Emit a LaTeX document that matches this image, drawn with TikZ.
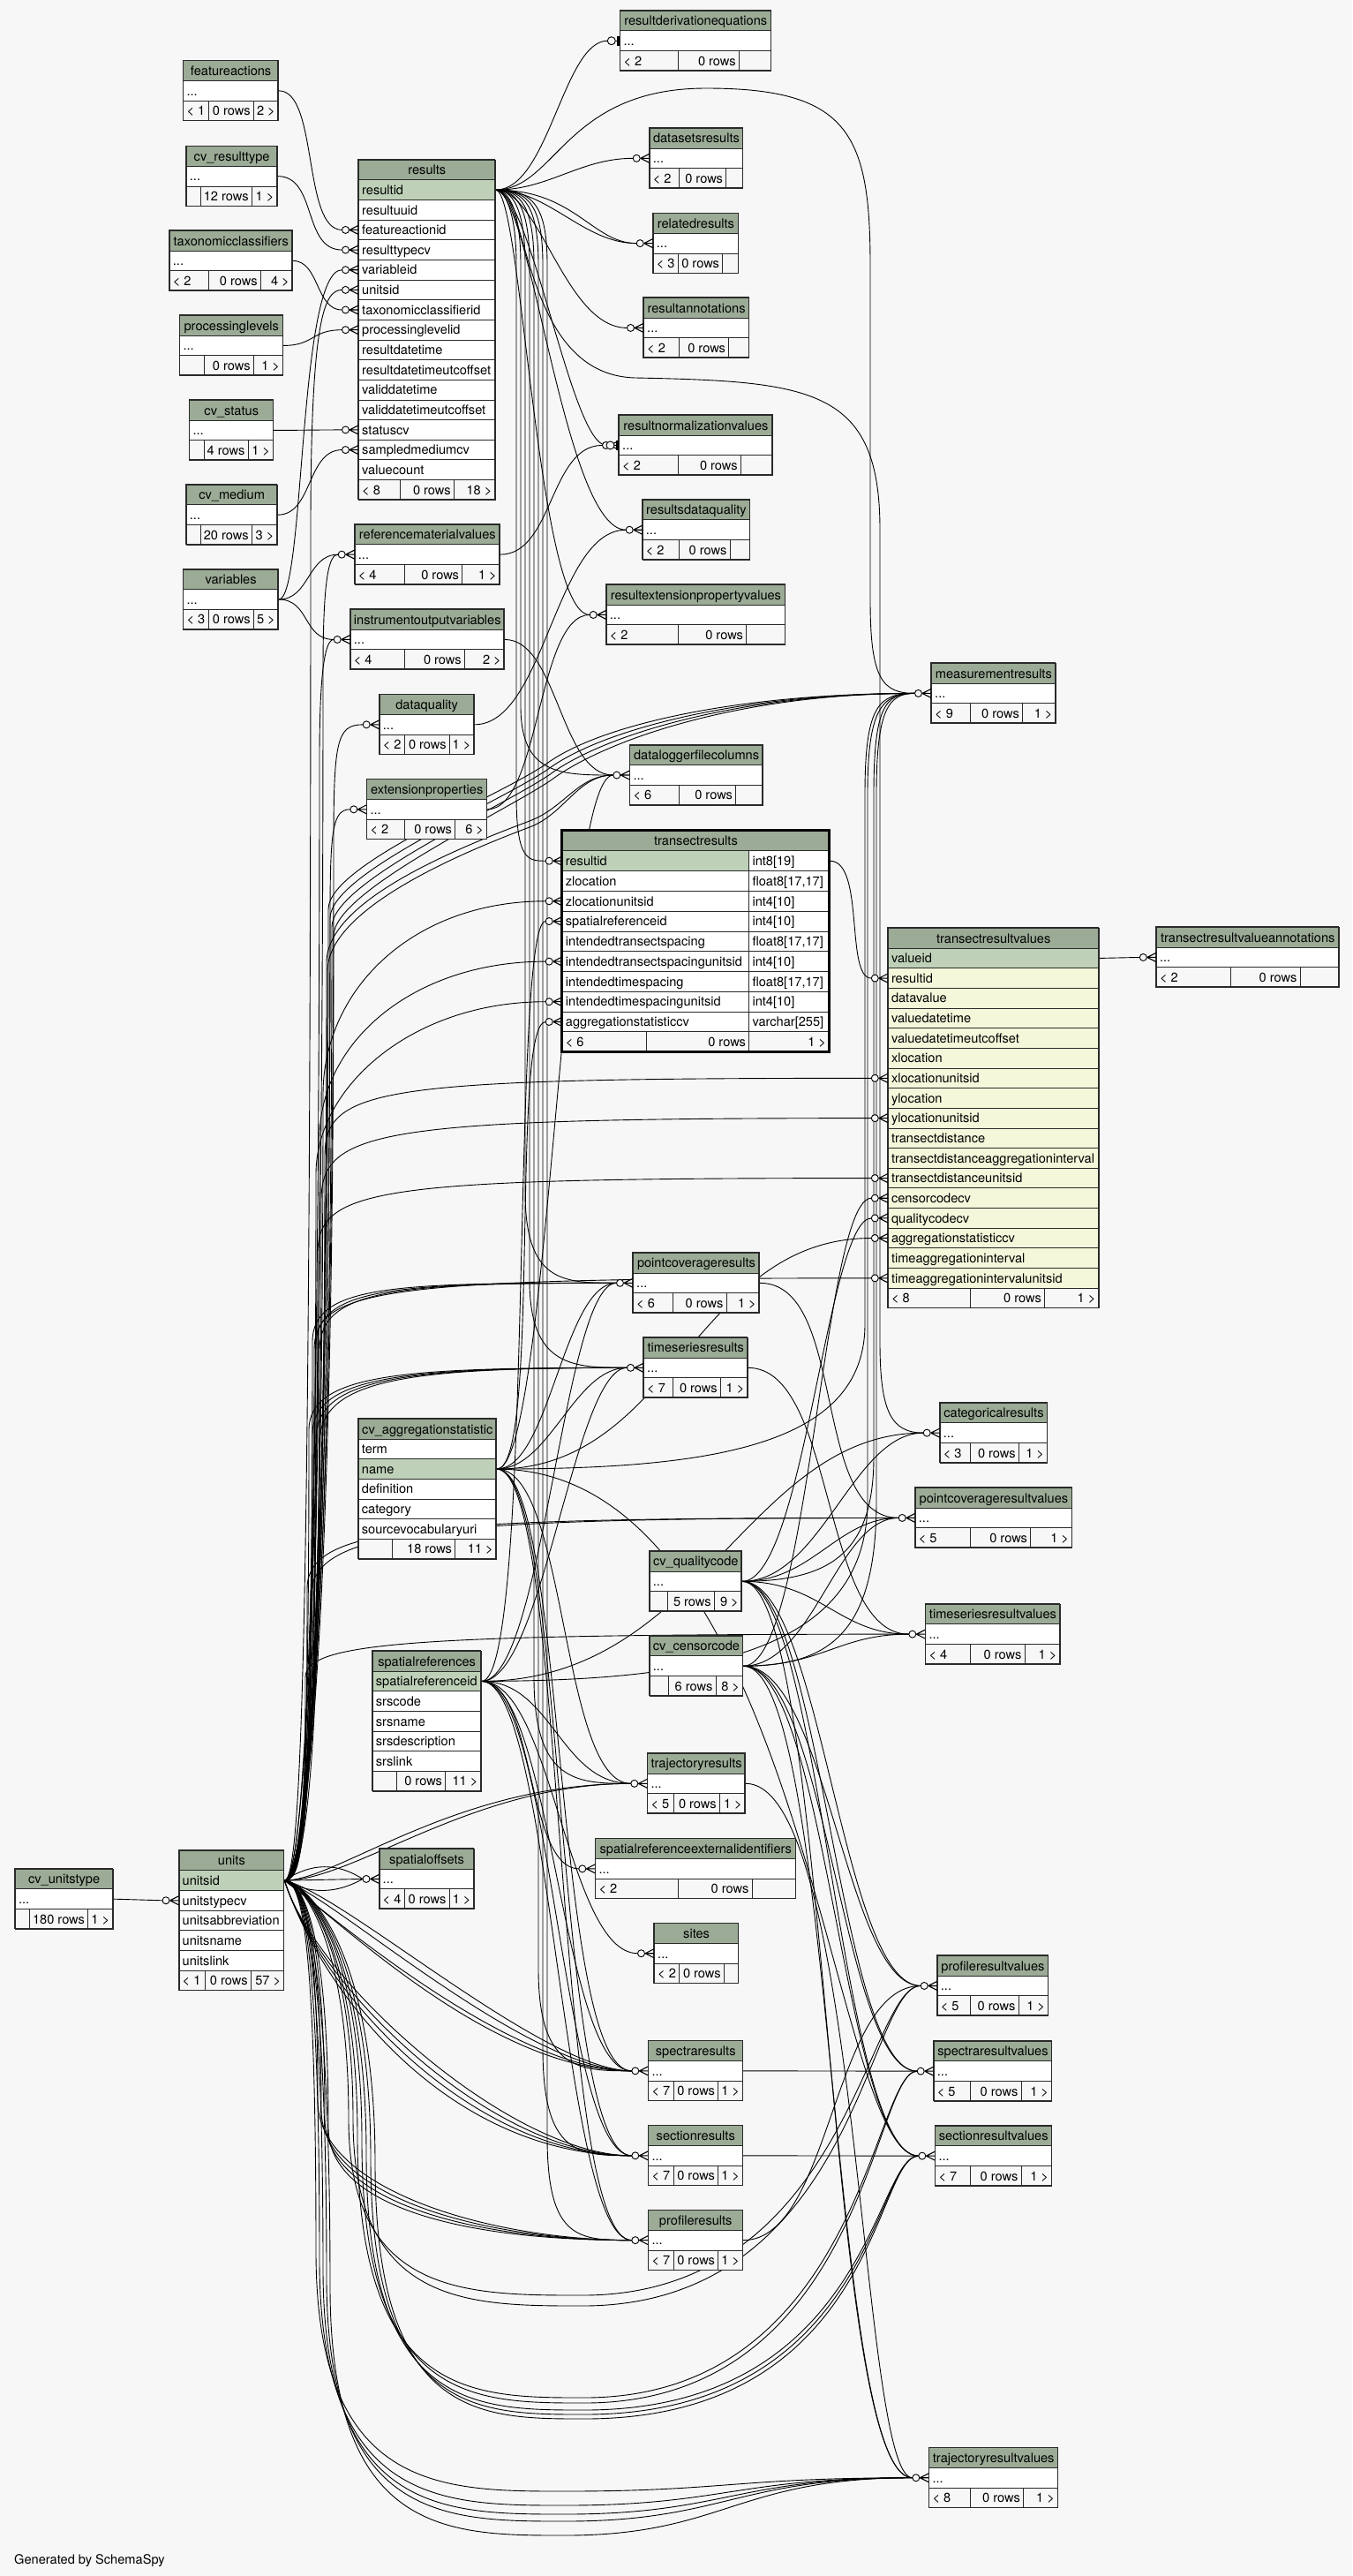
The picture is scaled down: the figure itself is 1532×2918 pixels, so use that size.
\documentclass[tikz,border=0pt]{standalone}
\usepackage{fontspec}
\setmainfont{TeX Gyre Heros}
\usetikzlibrary{calc}
\definecolor{bgc}{HTML}{F7F7F7}
\definecolor{hdrc}{HTML}{9BAB96}
\definecolor{keyc}{HTML}{BED1B8}
\definecolor{yelc}{HTML}{F4F7DA}
\definecolor{brd}{HTML}{2A2A2A}
\pgfdeclarelayer{bgl}\pgfdeclarelayer{edl}
\pgfsetlayers{bgl,edl,main}
\newcommand\tabfont{\fontsize{14.6}{16}\selectfont}
\def\RH{22.65}
\tikzset{
 hdr/.style={draw=brd, line width=0.9pt, fill=hdrc, anchor=north west, minimum height=\RH pt, inner sep=0pt, font=\tabfont, text height=10.5pt, text depth=0pt},
 rowb/.style={draw=brd, line width=0.9pt, fill=white, anchor=north west, minimum height=\RH pt, inner sep=0pt},
 keyrow/.style={fill=keyc},
 yelrow/.style={fill=yelc},
 lbl/.style={inner xsep=4pt, inner ysep=0pt, font=\tabfont, text height=10.5pt, text depth=0pt},
 tbord/.style={draw=brd, line width=1.3pt},
 rel/.style={draw=black, line width=0.9pt},
 crowpic/.pic={\draw[line width=1.1pt] (-10,0)--(0,-5) (-10,0)--(0,0) (-10,0)--(0,5); \draw[line width=0.9pt,fill=bgc] (-14.5,0) circle[radius=4pt];},
 teepic/.pic={\fill (-3.3,-5.5) rectangle (0,5.5); \draw[line width=0.9pt] (-5,0)--(-3.3,0); \draw[line width=0.9pt,fill=bgc] (-9.5,0) circle[radius=4.5pt];}
}
\newcommand\mktab[5]{%
  \xdef\TX{#2}\xdef\TW{#4}\xdef\TT{#3}%
  \node[hdr, minimum width=#4pt] (#1) at (#2,#3) {#5};%
  \pgfmathsetmacro\TMP{#3+\RH}\xdef\TY{\TMP}}
\newcommand\trow[3][]{%
  \node[rowb, minimum width=\TW pt, label={[lbl,anchor=west]west:{#3}}, #1] (#2) at (\TX,\TY) {};%
  \pgfmathsetmacro\TMP{\TY+\RH}\xdef\TY{\TMP}}
\newcommand\trowt[4][]{%
  \node[rowb, minimum width=211.6pt, label={[lbl,anchor=west]west:{#3}}, #1] (#2) at (\TX,\TY) {};%
  \node[rowb, minimum width=91pt, label={[lbl,anchor=west]west:{#4}}] (#2t) at (848.3,\TY) {};%
  \pgfmathsetmacro\TMP{\TY+\RH}\xdef\TY{\TMP}}
\newcommand\tfoot[6]{%
  \pgfmathsetmacro\WA{#2-\TX}\pgfmathsetmacro\WB{#3-#2}\pgfmathsetmacro\WC{\TX+\TW-#3}%
  \node[rowb, fill=bgc, minimum width=\WA pt, label={[lbl,anchor=west]west:{#4}}] (#1-f1) at (\TX,\TY) {};%
  \node[rowb, fill=bgc, minimum width=\WB pt, label={[lbl,anchor=east]east:{#5}}] (#1-f2) at (#2,\TY) {};%
  \node[rowb, fill=bgc, minimum width=\WC pt, label={[lbl,anchor=east]east:{#6}}] (#1-f3) at (#3,\TY) {};%
  \pgfmathsetmacro\YB{\TY+\RH}%
  \draw[tbord] (\TX,\TT) rectangle ({\TX+\TW},\YB);}
\newcommand\crowin[1]{\coordinate (#1-in) at ([xshift=-18.5pt]#1.west); \pic at (#1.west) {crowpic};}
\newcommand\teein[1]{\coordinate (#1-tin) at ([xshift=-14pt]#1.west); \pic at (#1.west) {teepic};}
% edges
\newcommand\SC[4]{\draw[rel] (#1) .. controls +(#3,0) and +(-#4,0) .. (#2);}
\newcommand\UP[5]{\draw[rel] (un-1.east) .. controls +(20,0) and (#2,{#3+0.8*(2129.6-#3)}) .. (#2,#3) .. controls (#2,#4) and +(-#5,0) .. (#1);}
\newcommand\UW[5]{\draw[rel] (un-1.east) .. controls +(20,0) and (#2,{#3+0.8*(2129.6-#3)}) .. (#2,#3) .. controls (#2,{#3-70}) and (520,{#4+30}) .. (600,#4) .. controls (640,{#4-15}) and +(-#5,0) .. (#1);}
\newcommand\UM[5]{\draw[rel] (un-1.east) .. controls +(20,0) and (#2,{#3+0.8*(2129.6-#3)}) .. (#2,#3) .. controls (#2,{#3-50}) and ({#4-60},{#5+40}) .. (#4,#5) .. controls ({#4+60},{#5-45}) and +(-200,0) .. (#1);}
\newcommand\DS[4]{\draw[rel] (un-1.east) .. controls (#2,#3) and +(-#4,0) .. (#1);}
\newcommand\UU[7]{\draw[rel] (un-1.east) .. controls +(20,0) and (#2,2200) .. (#2,#3) .. controls (#2,#4) and ({(#2+#5)/2},#4) .. (#5,#4) .. controls (#6,#4) and +(-#7,0) .. (#1);}
\newcommand\RD[5]{\draw[rel] (res-1.east) .. controls ({#2-15},214.6) and (#2,235) .. (#2,300) -- (#2,#3) .. controls (#2,#4) and +(-#5,0) .. (#1);}

\begin{document}
\begin{tikzpicture}[x=1pt,y=-1pt]
\useasboundingbox (0,0) rectangle (1532,2918);
\begin{pgfonlayer}{bgl}
\fill[bgc] (0,0) rectangle (1532,2918);
\end{pgfonlayer}

% ---------- tables ----------
\mktab{fa}{207.3}{68.4}{107.7}{featureactions}
\trow{fa-d}{...}
\tfoot{fa}{236}{287}{< 1}{0 rows}{2 >}

\mktab{rt}{210.7}{165.2}{103}{cv\_resulttype}
\trow{rt-d}{...}
\tfoot{rt}{226.7}{285}{}{12 rows}{1 >}

\mktab{tc}{191.7}{261}{139.3}{taxonomicclassifiers}
\trow{tc-d}{...}
\tfoot{tc}{235.7}{295}{< 2}{0 rows}{4 >}

\mktab{pl}{203.3}{357}{117}{processinglevels}
\trow{pl-d}{...}
\tfoot{pl}{230.7}{287}{}{0 rows}{1 >}

\mktab{st}{214.3}{453}{95}{cv\_status}
\trow{st-d}{...}
\tfoot{st}{230.7}{280.7}{}{4 rows}{1 >}

\mktab{md}{210.7}{548.8}{103}{cv\_medium}
\trow{md-d}{...}
\tfoot{md}{226.7}{285}{}{20 rows}{3 >}

\mktab{va}{207.3}{644.6}{107.7}{variables}
\trow{va-d}{...}
\tfoot{va}{236}{287}{< 3}{0 rows}{5 >}

\mktab{res}{406}{180.7}{154.7}{results}
\trow[keyrow]{res-1}{resultid}
\trow{res-2}{resultuuid}
\trow{res-3}{featureactionid}
\trow{res-4}{resulttypecv}
\trow{res-5}{variableid}
\trow{res-6}{unitsid}
\trow{res-7}{taxonomicclassifierid}
\trow{res-8}{processinglevelid}
\trow{res-9}{resultdatetime}
\trow{res-10}{resultdatetimeutcoffset}
\trow{res-11}{validdatetime}
\trow{res-12}{validdatetimeutcoffset}
\trow{res-13}{statuscv}
\trow{res-14}{sampledmediumcv}
\trow{res-15}{valuecount}
\tfoot{res}{453.3}{514}{< 8}{0 rows}{18 >}

\mktab{rmv}{401.7}{593.7}{164.3}{referencematerialvalues}
\trow{rmv-d}{...}
\tfoot{rmv}{457.7}{523.3}{< 4}{0 rows}{1 >}

\mktab{iov}{396.7}{690}{174.3}{instrumentoutputvariables}
\trow{iov-d}{...}
\tfoot{iov}{457.7}{526}{< 4}{0 rows}{2 >}

\mktab{dq}{429.7}{786.4}{107}{dataquality}
\trow{dq-d}{...}
\tfoot{dq}{458.3}{509}{< 2}{0 rows}{1 >}

\mktab{ep}{415.3}{882.4}{136}{extensionproperties}
\trow{ep-d}{...}
\tfoot{ep}{457.7}{515.3}{< 2}{0 rows}{6 >}

\mktab{rde}{702.3}{11.8}{171}{resultderivationequations}
\trow{rde-d}{...}
\tfoot{rde}{767.7}{837}{< 2}{0 rows}{}

\mktab{dsr}{735.7}{144.9}{105.6}{datasetsresults}
\trow{dsr-d}{...}
\tfoot{dsr}{769.3}{822.3}{< 2}{0 rows}{}

\mktab{rr}{739.7}{241.2}{96.6}{relatedresults}
\trow{rr-d}{...}
\tfoot{rr}{767.7}{818.3}{< 3}{0 rows}{}

\mktab{ra}{729}{337}{119.3}{resultannotations}
\trow{ra-d}{...}
\tfoot{ra}{769.3}{825.3}{< 2}{0 rows}{}

\mktab{rnv}{701}{470}{174}{resultnormalizationvalues}
\trow{rnv-d}{...}
\tfoot{rnv}{767.7}{839}{< 2}{0 rows}{}

\mktab{rdq}{727.7}{565.8}{121.6}{resultsdataquality}
\trow{rdq-d}{...}
\tfoot{rdq}{769.3}{826.7}{< 2}{0 rows}{}

\mktab{repv}{686.7}{662}{202.6}{resultextensionpropertyvalues}
\trow{repv-d}{...}
\tfoot{repv}{767.7}{845.3}{< 2}{0 rows}{}

\mktab{mr}{1055}{751}{140.8}{measurementresults}
\trow{mr-d}{...}
\tfoot{mr}{1099.4}{1158.1}{< 9}{0 rows}{1 >}

\mktab{dlfc}{713.3}{843.6}{150.7}{dataloggerfilecolumns}
\trow{dlfc-d}{...}
\tfoot{dlfc}{769}{833.3}{< 6}{0 rows}{}

\def\RH{22.78}
\mktab{tr}{636.7}{940.6}{302.6}{transectresults}
\trowt[keyrow]{tr-1}{resultid}{int8[19]}
\trowt{tr-2}{zlocation}{float8[17,17]}
\trowt{tr-3}{zlocationunitsid}{int4[10]}
\trowt{tr-4}{spatialreferenceid}{int4[10]}
\trowt{tr-5}{intendedtransectspacing}{float8[17,17]}
\trowt{tr-6}{intendedtransectspacingunitsid}{int4[10]}
\trowt{tr-7}{intendedtimespacing}{float8[17,17]}
\trowt{tr-8}{intendedtimespacingunitsid}{int4[10]}
\trowt{tr-9}{aggregationstatisticcv}{varchar[255]}
\tfoot{tr}{731.7}{848.3}{< 6}{0 rows}{1 >}
\draw[draw=black, line width=3pt] (636.7,940.6) rectangle (939.3,1191.2);
\def\RH{22.65}

\mktab{trv}{1005.8}{1051}{238.9}{transectresultvalues}
\trow[keyrow]{trv-1}{valueid}
\trow[yelrow]{trv-2}{resultid}
\trow[yelrow]{trv-3}{datavalue}
\trow[yelrow]{trv-4}{valuedatetime}
\trow[yelrow]{trv-5}{valuedatetimeutcoffset}
\trow[yelrow]{trv-6}{xlocation}
\trow[yelrow]{trv-7}{xlocationunitsid}
\trow[yelrow]{trv-8}{ylocation}
\trow[yelrow]{trv-9}{ylocationunitsid}
\trow[yelrow]{trv-10}{transectdistance}
\trow[yelrow]{trv-11}{transectdistanceaggregationinterval}
\trow[yelrow]{trv-12}{transectdistanceunitsid}
\trow[yelrow]{trv-13}{censorcodecv}
\trow[yelrow]{trv-14}{qualitycodecv}
\trow[yelrow]{trv-15}{aggregationstatisticcv}
\trow[yelrow]{trv-16}{timeaggregationinterval}
\trow[yelrow]{trv-17}{timeaggregationintervalunitsid}
\tfoot{trv}{1099.1}{1183.2}{< 8}{0 rows}{1 >}

\mktab{trva}{1309.8}{1050}{207}{transectresultvalueannotations}
\trow{trva-d}{...}
\tfoot{trva}{1393.6}{1472.7}{< 2}{0 rows}{}

\mktab{pcr}{717}{1418.9}{143}{pointcoverageresults}
\trow{pcr-d}{...}
\tfoot{pcr}{762.3}{822.7}{< 6}{0 rows}{1 >}

\mktab{tsr}{729}{1514.9}{117.7}{timeseriesresults}
\trow{tsr-d}{...}
\tfoot{tsr}{762.3}{816}{< 7}{0 rows}{1 >}

\mktab{cat}{1064.7}{1588.7}{121.6}{categoricalresults}
\trow{cat-d}{...}
\tfoot{cat}{1099}{1154}{< 3}{0 rows}{1 >}

\mktab{pcrv}{1036.7}{1685}{177.6}{pointcoverageresultvalues}
\trow{pcrv-d}{...}
\tfoot{pcrv}{1099}{1167.3}{< 5}{0 rows}{1 >}

\mktab{tsrv}{1048.3}{1816.7}{152.4}{timeseriesresultvalues}
\trow{tsrv-d}{...}
\tfoot{tsrv}{1099}{1160.7}{< 4}{0 rows}{1 >}

\mktab{agg}{405.7}{1607}{156.3}{cv\_aggregationstatistic}
\trow{agg-1}{term}
\trow[keyrow]{agg-2}{name}
\trow{agg-3}{definition}
\trow{agg-4}{category}
\trow{agg-5}{sourcevocabularyuri}
\tfoot{agg}{444.3}{515.3}{}{18 rows}{11 >}

\mktab{qc}{735.7}{1756.9}{104.3}{cv\_qualitycode}
\trow{qc-d}{...}
\tfoot{qc}{755.7}{809}{}{5 rows}{9 >}

\mktab{cc}{735.7}{1852.8}{105.6}{cv\_censorcode}
\trow{cc-d}{...}
\tfoot{cc}{757}{810.7}{}{6 rows}{8 >}

\mktab{sr}{421.7}{1870}{123}{spatialreferences}
\trow[keyrow]{sr-1}{spatialreferenceid}
\trow{sr-2}{srscode}
\trow{sr-3}{srsname}
\trow{sr-4}{srsdescription}
\trow{sr-5}{srslink}
\tfoot{sr}{448.7}{504.3}{}{0 rows}{11 >}

\mktab{trj}{733.3}{1985.9}{110.7}{trajectoryresults}
\trow{trj-d}{...}
\tfoot{trj}{762.7}{815}{< 5}{0 rows}{1 >}

\mktab{srei}{674.3}{2082.4}{227}{spatialreferenceexternalidentifiers}
\trow{srei-d}{...}
\tfoot{srei}{767.7}{851.7}{< 2}{0 rows}{}

\mktab{sites}{741}{2178.3}{95.3}{sites}
\trow{sites-d}{...}
\tfoot{sites}{769}{820}{< 2}{0 rows}{}

\mktab{so}{429.5}{2094}{107.3}{spatialoffsets}
\trow{so-d}{...}
\tfoot{so}{457.7}{508.7}{< 4}{0 rows}{1 >}

\mktab{prv}{1061.7}{2215}{125.6}{profileresultvalues}
\trow{prv-d}{...}
\tfoot{prv}{1099}{1153.7}{< 5}{0 rows}{1 >}

\mktab{spr}{734.3}{2311.4}{107}{spectraresults}
\trow{spr-d}{...}
\tfoot{spr}{762.7}{813.3}{< 7}{0 rows}{1 >}

\mktab{srv}{1057.7}{2311.7}{133.6}{spectraresultvalues}
\trow{srv-d}{...}
\tfoot{srv}{1099}{1156.7}{< 5}{0 rows}{1 >}

\mktab{ser}{734.3}{2407.4}{107}{sectionresults}
\trow{ser-d}{...}
\tfoot{ser}{762.7}{813.3}{< 7}{0 rows}{1 >}

\mktab{secrv}{1059.3}{2407.7}{132}{sectionresultvalues}
\trow{secrv-d}{...}
\tfoot{secrv}{1099}{1156.7}{< 7}{0 rows}{1 >}

\mktab{pr}{734.3}{2503.2}{107}{profileresults}
\trow{pr-d}{...}
\tfoot{pr}{762.7}{813.3}{< 7}{0 rows}{1 >}

\mktab{trjv}{1052.3}{2772.3}{145.9}{trajectoryresultvalues}
\trow{trjv-d}{...}
\tfoot{trjv}{1099.3}{1159.1}{< 8}{0 rows}{1 >}

\mktab{ut}{16.8}{2116.7}{110.7}{cv\_unitstype}
\trow{ut-d}{...}
\tfoot{ut}{32.9}{99.3}{}{180 rows}{1 >}

\mktab{un}{202.5}{2095.7}{118.9}{units}
\trow[keyrow]{un-1}{unitsid}
\trow{un-2}{unitstypecv}
\trow{un-3}{unitsabbreviation}
\trow{un-4}{unitsname}
\trow{un-5}{unitslink}
\tfoot{un}{231.8}{284}{< 1}{0 rows}{57 >}

\node[lbl, anchor=west, inner xsep=0pt] (gen) at (16,2899) {Generated by SchemaSpy};

% ---------- child ends ----------
\crowin{res-3}\crowin{res-4}\crowin{res-5}\crowin{res-6}\crowin{res-7}\crowin{res-8}\crowin{res-13}\crowin{res-14}
\crowin{rmv-d}\crowin{iov-d}\crowin{dq-d}\crowin{ep-d}
\teein{rde-d}\crowin{dsr-d}\crowin{rr-d}\crowin{ra-d}\crowin{rnv-d}\teein{rnv-d}\crowin{rdq-d}\crowin{repv-d}
\crowin{mr-d}\crowin{dlfc-d}
\crowin{tr-1}\crowin{tr-3}\crowin{tr-4}\crowin{tr-6}\crowin{tr-8}\crowin{tr-9}
\crowin{trv-2}\crowin{trv-7}\crowin{trv-9}\crowin{trv-12}\crowin{trv-13}\crowin{trv-14}\crowin{trv-15}\crowin{trv-17}
\crowin{trva-d}\crowin{pcr-d}\crowin{tsr-d}\crowin{cat-d}\crowin{pcrv-d}\crowin{tsrv-d}
\crowin{trj-d}\crowin{srei-d}\crowin{sites-d}\crowin{so-d}\crowin{prv-d}\crowin{spr-d}\crowin{srv-d}
\crowin{ser-d}\crowin{secrv-d}\crowin{pr-d}\crowin{trjv-d}\crowin{un-2}

% ---------- connectors ----------
\begin{pgfonlayer}{edl}
% parents of results
\SC{fa-d.east}{res-3-in}{45}{45}
\SC{rt-d.east}{res-4-in}{45}{45}
\SC{tc-d.east}{res-7-in}{30}{30}
\SC{pl-d.east}{res-8-in}{35}{35}
\SC{st-d.east}{res-13-in}{30}{30}
\SC{md-d.east}{res-14-in}{40}{40}
\SC{va-d.east}{res-5-in}{30}{50}
\SC{va-d.east}{rmv-d-in}{35}{35}
\SC{va-d.east}{iov-d-in}{35}{35}
\draw[rel] (ut-d.east) -- (un-2-in);
% units upward
\UP{res-6-in}{352}{600}{360}{20}
\UP{rmv-d-in}{366}{760}{650}{10}
\UP{iov-d-in}{362}{860}{760}{10}
\UP{dq-d-in}{378}{960}{840}{30}
\UP{ep-d-in}{374}{1040}{940}{20}
\UW{dlfc-d-in}{370}{1090}{930}{40}
\UW{dlfc-d-in}{371}{1100}{937}{40}
\UM{mr-d-in}{372}{1030}{618}{866}
\UM{mr-d-in}{374}{1040}{620}{872}
\UM{mr-d-in}{376}{1050}{622}{878}
\UM{mr-d-in}{378}{1060}{624}{884}
\UP{tr-3-in}{366}{1240}{1120}{150}
\UP{tr-6-in}{362}{1290}{1180}{150}
\UP{tr-8-in}{358}{1330}{1230}{150}
\UP{trv-7-in}{368}{1310}{1232}{560}
\UP{trv-9-in}{364}{1360}{1280}{560}
\UP{trv-12-in}{360}{1420}{1345}{560}
\UP{trv-17-in}{356}{1530}{1460}{560}
\UP{pcr-d-in}{354}{1520}{1455}{250}
\UP{pcr-d-in}{358}{1525}{1458}{250}
\UP{pcr-d-in}{362}{1530}{1460}{250}
\UP{tsr-d-in}{350}{1620}{1555}{250}
\UP{tsr-d-in}{354}{1625}{1558}{250}
\UP{tsr-d-in}{358}{1630}{1560}{250}
\UP{tsr-d-in}{362}{1635}{1562}{250}
\UP{pcrv-d-in}{348}{1800}{1730}{550}
\UP{pcrv-d-in}{352}{1810}{1735}{550}
\UP{tsrv-d-in}{346}{1900}{1860}{560}
\SC{un-1.east}{trj-d-in}{60}{200}
\SC{un-1.east}{trj-d-in}{80}{180}
% units to spatialoffsets
\draw[rel] (un-1.east) .. controls (360,2105) and (390,2115) .. (so-d-in);
\draw[rel] (un-1.east) -- (so-d-in);
\draw[rel] (un-1.east) .. controls (360,2150) and (390,2140) .. (so-d-in);
% units downward
\DS{spr-d-in}{380}{2150}{120}
\DS{spr-d-in}{370}{2165}{140}
\DS{spr-d-in}{390}{2145}{100}
\DS{spr-d-in}{385}{2175}{160}
\DS{ser-d-in}{360}{2250}{160}
\DS{ser-d-in}{365}{2260}{180}
\DS{ser-d-in}{355}{2240}{140}
\DS{ser-d-in}{370}{2270}{200}
\UP{pr-d-in}{360}{2380}{2480}{160}
\UP{pr-d-in}{364}{2390}{2485}{175}
\UP{pr-d-in}{368}{2400}{2490}{190}
\UP{pr-d-in}{372}{2410}{2495}{205}
\UU{prv-d-in}{395}{2400}{2600}{660}{960}{60}
\UU{prv-d-in}{400}{2400}{2612}{660}{970}{60}
\UU{srv-d-in}{405}{2420}{2716}{662}{975}{50}
\UU{srv-d-in}{410}{2425}{2722}{662}{980}{50}
\UU{secrv-d-in}{415}{2440}{2730}{662}{985}{50}
\UU{secrv-d-in}{420}{2445}{2735}{662}{990}{50}
\UU{secrv-d-in}{425}{2450}{2740}{662}{995}{50}
\UU{trjv-d-in}{358}{2550}{2822}{640}{820}{200}
\UU{trjv-d-in}{362}{2560}{2838}{640}{820}{200}
\UU{trjv-d-in}{366}{2570}{2848}{640}{820}{200}
\UU{trjv-d-in}{370}{2580}{2856}{640}{820}{200}
\UU{trjv-d-in}{374}{2590}{2872}{640}{820}{200}
% results children
\draw[rel] (res-1.east) .. controls +(60,0) and +(-50,0) .. (rde-d-tin);
\SC{res-1.east}{dsr-d-in}{60}{60}
\SC{res-1.east}{rr-d-in}{60}{60}
\SC{res-1.east}{rr-d-in}{90}{50}
\SC{res-1.east}{ra-d-in}{50}{70}
\draw[rel] (res-1.east) .. controls +(40,0) and +(-40,0) .. (rnv-d-tin);
\SC{res-1.east}{rdq-d-in}{40}{70}
\SC{res-1.east}{repv-d-in}{30}{60}
\draw[rel] (res-1.east) .. controls (630,214.6) and (640,100) .. (800,100) .. controls (960,100) and (986,150) .. (986,300) -- (986,680) .. controls (986,770) and (1000,785.2) .. (mr-d-in);
\draw[rel] (res-1.east) .. controls (600,214.6) and (590,425) .. (720,428) .. controls (920,432) and (997,440) .. (997,600) -- (997,1520) .. controls (997,1600) and (1010,1622.8) .. (cat-d-in);
\RD{tr-1-in}{585}{900}{974.8}{20}
\RD{dlfc-d-in}{590}{800}{877.3}{60}
\RD{pcr-d-in}{595}{1350}{1453.2}{60}
\RD{tsr-d-in}{600}{1450}{1549.2}{60}
\RD{trj-d-in}{605}{1900}{2020.2}{60}
\RD{spr-d-in}{610}{2230}{2345.3}{60}
\RD{ser-d-in}{615}{2320}{2441.4}{60}
\RD{pr-d-in}{620}{2420}{2537.3}{60}
% cv_aggregationstatistic
\SC{agg-2.east}{tr-9-in}{50}{40}
\SC{agg-2.east}{trv-15-in}{200}{200}
\draw[rel] (agg-2.east) .. controls (800,1663.8) and (980,1640) .. (980,1500) -- (980,900) .. controls (980,800) and (995,785.2) .. (mr-d-in);
\SC{agg-2.east}{pcr-d-in}{60}{60}
\SC{agg-2.east}{tsr-d-in}{60}{60}
\SC{agg-2.east}{trj-d-in}{80}{80}
\SC{agg-2.east}{spr-d-in}{80}{90}
\SC{agg-2.east}{ser-d-in}{80}{90}
\SC{agg-2.east}{pr-d-in}{80}{90}
\SC{agg-2.east}{secrv-d-in}{350}{100}
\SC{agg-2.east}{dlfc-d-in}{60}{60}
% spatialreferences
\SC{sr-1.east}{tr-4-in}{60}{40}
\draw[rel] (sr-1.east) .. controls (800,1904) and (983,1870) .. (983,1700) -- (983,900) .. controls (983,805) and (998,785.2) .. (mr-d-in);
\SC{sr-1.east}{pcr-d-in}{70}{60}
\SC{sr-1.east}{tsr-d-in}{70}{60}
\SC{sr-1.east}{trj-d-in}{80}{80}
\SC{sr-1.east}{spr-d-in}{80}{80}
\SC{sr-1.east}{ser-d-in}{80}{80}
\SC{sr-1.east}{pr-d-in}{80}{80}
\SC{sr-1.east}{cat-d-in}{250}{200}
\SC{sr-1.east}{srei-d-in}{60}{60}
\SC{sr-1.east}{sites-d-in}{80}{80}
% cv_qualitycode
\SC{qc-d.east}{trv-14-in}{70}{50}
\draw[rel] (qc-d.east) .. controls (940,1791) and (990,1760) .. (990,1650) -- (990,900) .. controls (990,800) and (1003,785.2) .. (mr-d-in);
\SC{qc-d.east}{cat-d-in}{90}{80}
\SC{qc-d.east}{pcrv-d-in}{80}{70}
\SC{qc-d.east}{tsrv-d-in}{90}{80}
\SC{qc-d.east}{prv-d-in}{90}{90}
\SC{qc-d.east}{srv-d-in}{90}{90}
\SC{qc-d.east}{secrv-d-in}{90}{90}
\SC{qc-d.east}{trjv-d-in}{100}{100}
% cv_censorcode
\SC{cc-d.east}{trv-13-in}{75}{55}
\draw[rel] (cc-d.east) .. controls (940,1887) and (993,1850) .. (993,1700) -- (993,900) .. controls (993,805) and (1006,785.2) .. (mr-d-in);
\SC{cc-d.east}{pcrv-d-in}{80}{70}
\SC{cc-d.east}{tsrv-d-in}{90}{80}
\SC{cc-d.east}{prv-d-in}{95}{85}
\SC{cc-d.east}{srv-d-in}{95}{85}
\SC{cc-d.east}{secrv-d-in}{95}{85}
\SC{cc-d.east}{trjv-d-in}{105}{95}
% misc
\SC{rmv-d.east}{rnv-d-in}{60}{60}
\SC{dq-d.east}{rdq-d-in}{80}{80}
\SC{ep-d.east}{repv-d-in}{60}{60}
\SC{iov-d.east}{dlfc-d-in}{60}{60}
\SC{tr-1t.east}{trv-2-in}{40}{30}
\draw[rel] (trv-1.east) -- (trva-d-in);
\SC{pcr-d.east}{pcrv-d-in}{100}{100}
\SC{tsr-d.east}{tsrv-d-in}{100}{100}
\SC{trj-d.east}{trjv-d-in}{130}{60}
\draw[rel] (spr-d.east) -- (srv-d-in);
\draw[rel] (ser-d.east) -- (secrv-d-in);
\SC{pr-d.east}{prv-d-in}{100}{100}
\end{pgfonlayer}
\end{tikzpicture}
\end{document}
